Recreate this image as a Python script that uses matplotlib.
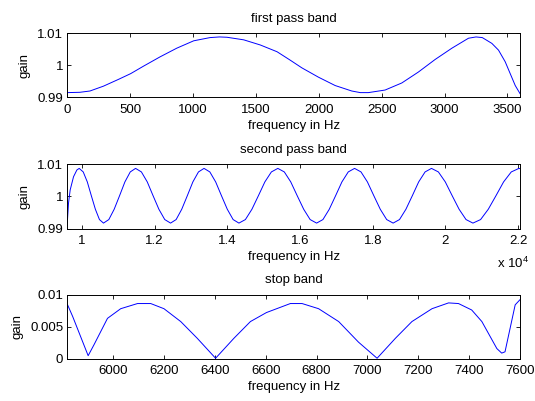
import matplotlib
matplotlib.use('Agg')
import matplotlib.pyplot as plt

#first pass band
freq_pass1 = [0, 100, 180, 287, 406, 504, 605, 737, 870, 1005, 1135, 1210, 1270, 1403, 1535, 1668, 1772,
              1865, 1997, 2130, 2262, 2330, 2394, 2527, 2660, 2792, 2925, 3058, 3190, 3250, 3300, 3376,
              3429, 3482, 3522, 3562, 3600]
gain_pass1 = [0.9915, 0.9916, 0.9920, 0.9935, 0.9956, 0.9974, 0.9997, 1.0026, 1.0053, 1.0076, 1.0086, 1.0088,
              1.0087, 1.0079, 1.0063, 1.0042, 1.0016, 0.9992, 0.9963, 0.9937, 0.9920, 0.9915, 0.9915,
              0.9923, 0.9945, 0.9979, 1.0018, 1.0053, 1.0084, 1.0088, 1.0086, 1.0068, 1.0047, 1.0011,
              0.9974, 0.9937, 0.9912]

#second pass band
freq_pass2 = [9600, 9633, 9679, 9771, 9863, 9927,
              10038, 10150, 10261, 10372, 10484, 10595,
              10742, 10889, 11037, 11184, 11331, 11478,
              11638, 11799, 11959, 12119, 12280, 12440,
              12593, 12747, 12900, 13053, 13207, 13360,
              13520, 13680, 13840, 14000, 14160, 14320,
              14498, 14677, 14855, 15033, 15212, 15390,
              15568, 15745, 15923, 16101, 16278, 16456,
              16630, 16804, 16978, 17152, 17326, 17500,
              17677, 17853, 18030, 18207, 18383, 18560,
              18736, 18912, 19088, 19263, 19439, 19615,
              19805, 19995, 20185, 20375, 20565, 20755,
              20966, 21177, 21388, 21598, 21809, 22020, 22050]
gain_pass2 = [0.9918, 0.9979, 1.0020, 1.0061, 1.0082, 1.0087,
              1.0076, 1.0045, 1.0002, 0.9960, 0.9928, 0.9917,
              0.9928, 0.9960, 1.0002, 1.0045, 1.0076, 1.0087,
              1.0076, 1.0045, 1.0002, 0.9960, 0.9928, 0.9917,
              0.9928, 0.9960, 1.0002, 1.0045, 1.0076, 1.0087,
              1.0076, 1.0045, 1.0002, 0.9960, 0.9928, 0.9917,
              0.9928, 0.9960, 1.0002, 1.0045, 1.0076, 1.0087,
              1.0076, 1.0045, 1.0002, 0.9960, 0.9928, 0.9917,
              0.9928, 0.9960, 1.0002, 1.0045, 1.0076, 1.0087,
              1.0076, 1.0045, 1.0002, 0.9960, 0.9928, 0.9917,
              0.9928, 0.9960, 1.0002, 1.0045, 1.0076, 1.0087,
              1.0076, 1.0045, 1.0002, 0.9960, 0.9928, 0.9917,
              0.9928, 0.9960, 1.0002, 1.0045, 1.0076, 1.0087, 1.0086]

#stop band
freq_stop = [5820, 5841, 5902, 5925, 5978, 6030, 6096, 6148, 6200, 6266, 6331, 6403, 6475, 6540, 6603,
             6697, 6743, 6808, 6887, 6965, 7038, 7110, 7175, 7254, 7319, 7358, 7410, 7450, 7509, 7528,
             7541, 7581, 7600]
gain_stop = [0.0085, 0.0066, 0.0005, 0.0022, 0.0063, 0.0078, 0.0086, 0.0086, 0.0078, 0.0058, 0.0032, 0.0001,
             0.0032, 0.0058, 0.0072, 0.0086, 0.0086, 0.0078, 0.0058, 0.0026, 0.0001, 0.0032, 0.0058,
             0.0078, 0.0087, 0.0086, 0.0076, 0.0058, 0.0016, 0.0009, 0.0011, 0.0084, 0.0092]

#axis settings
titles = ['first pass band', 'second pass band', 'stop band']
xlims = [(0, 3600), (9600, 22050), (5820, 7600)]
ylims = [(0.99, 1.01), (0.99, 1.01), (0, 0.01)]
xticks_pass1 = [0, 500, 1000, 1500, 2000, 2500, 3000, 3500]
xticks_pass2 = [10000, 12000, 14000, 16000, 18000, 20000, 22000]
xticklabels_pass2 = ['1', '1.2', '1.4', '1.6', '1.8', '2', '2.2']
xticks_stop = [6000, 6200, 6400, 6600, 6800, 7000, 7200, 7400, 7600]
yticks_pass = [0.99, 1.0, 1.01]
yticklabels_pass = ['0.99', '1', '1.01']
yticks_stop = [0, 0.005, 0.01]
yticklabels_stop = ['0', '0.005', '0.01']

plt.rcParams['font.family'] = ['Liberation Sans', 'DejaVu Sans']
plt.rcParams['font.size'] = 9.5
plt.rcParams['mathtext.fontset'] = 'custom'
plt.rcParams['mathtext.rm'] = 'Liberation Sans'

fig = plt.figure(figsize=(5.35, 4.01), dpi=100)
bottoms = [0.757, 0.430, 0.105]
axes = [fig.add_axes([0.1258, b, 0.8462, 0.1605]) for b in bottoms]

data = [(freq_pass1, gain_pass1), (freq_pass2, gain_pass2), (freq_stop, gain_stop)]
for ax, (f, g), title, xl, yl in zip(axes, data, titles, xlims, ylims):
    ax.plot(f, g, color='b', linewidth=0.7)
    ax.set_xlim(xl)
    ax.set_ylim(yl)
    ax.set_title(title, fontsize=9.5, pad=8)
    ax.set_xlabel('frequency in Hz', labelpad=3)
    ax.set_ylabel('gain', labelpad=5)
    ax.tick_params(direction='in', top=True, right=True, length=3.2, width=0.6, pad=4.5, labelsize=9.5)
    ax.tick_params(axis='y', pad=3)
    for s in ax.spines.values():
        s.set_linewidth(0.7)

axes[0].set_xticks(xticks_pass1)
axes[0].set_xticklabels([str(t) for t in xticks_pass1])
axes[1].set_xticks(xticks_pass2)
axes[1].set_xticklabels(xticklabels_pass2)
axes[2].set_xticks(xticks_stop)
axes[2].set_xticklabels([str(t) for t in xticks_stop])
for ax in axes[:2]:
    ax.set_yticks(yticks_pass)
    ax.set_yticklabels(yticklabels_pass)
axes[2].set_yticks(yticks_stop)
axes[2].set_yticklabels(yticklabels_stop)

#exponent label under second plot
axes[1].text(1.02, -0.62, r'x 10$^4$', transform=axes[1].transAxes, ha='right', va='baseline', fontsize=9.5)

fig.savefig('out.png', dpi=100, facecolor='white')
